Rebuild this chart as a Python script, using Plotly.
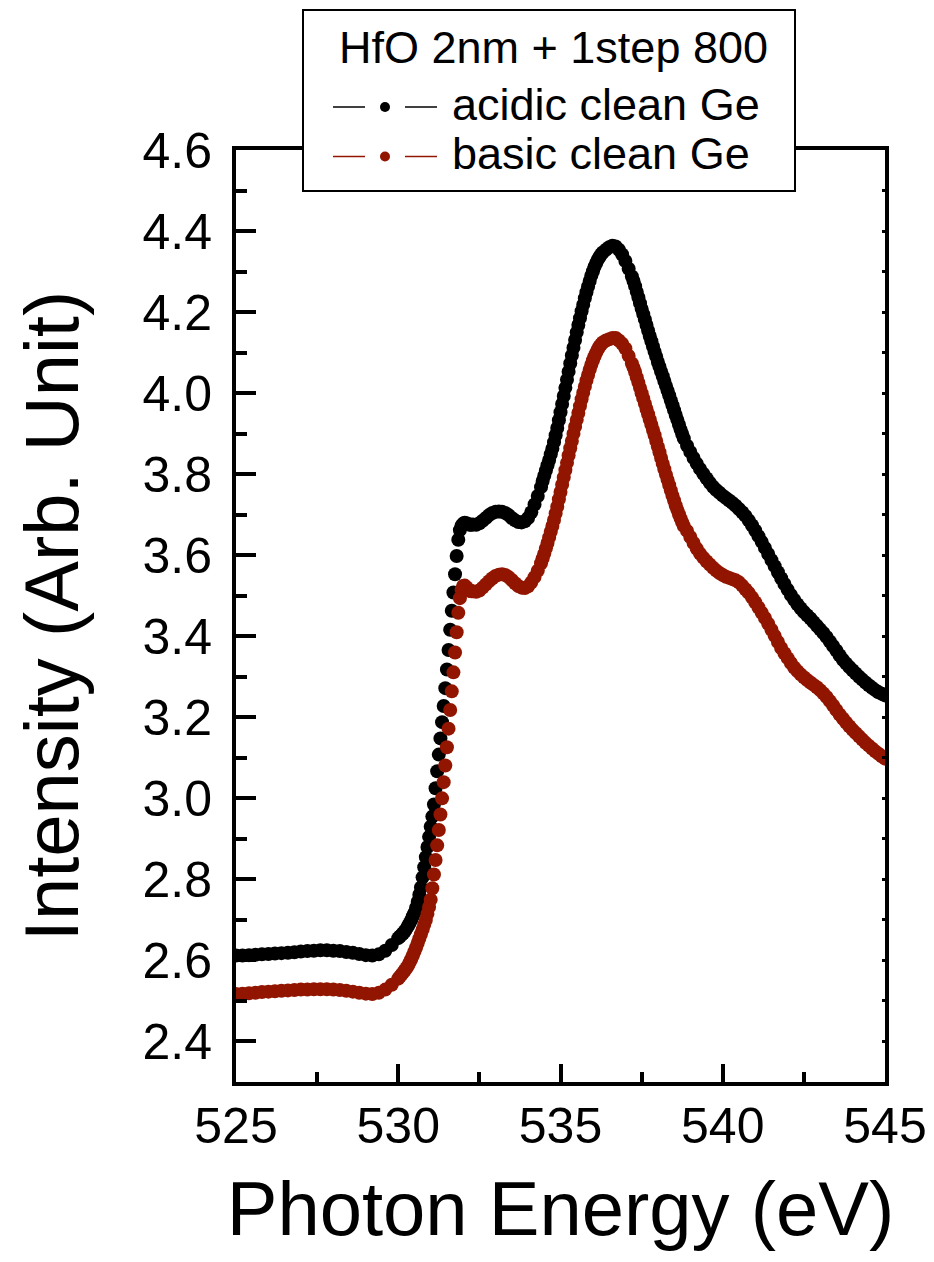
import plotly.graph_objects as go

# ---------------- data ----------------
energy = [
    # 525.0 - 529.8
    525.0, 525.2, 525.4, 525.6, 525.8, 526.0, 526.2, 526.4, 526.6, 526.8,
    527.0, 527.2, 527.4, 527.6, 527.8, 528.0, 528.2, 528.4, 528.6, 528.8,
    529.0, 529.2, 529.4, 529.6, 529.8,
    # 530.0 - 530.7
    530.0, 530.05, 530.1, 530.15, 530.2, 530.25, 530.3, 530.35, 530.4, 530.45,
    530.5, 530.55, 530.6, 530.65, 530.7,
    # 530.75 - 532.3
    530.75, 530.8, 530.85, 530.9, 530.95, 531.0, 531.05, 531.1, 531.15, 531.2,
    531.25, 531.3, 531.35, 531.4, 531.45, 531.5, 531.55, 531.6, 531.65, 531.7,
    531.75, 531.8, 531.85, 531.9, 531.95, 532.0, 532.05, 532.1, 532.15, 532.2,
    532.25, 532.3,
    # 532.4 - 534.4
    532.4, 532.5, 532.6, 532.7, 532.8, 532.9, 533.0, 533.1, 533.2, 533.3,
    533.4, 533.5, 533.6, 533.7, 533.8, 533.9, 534.0, 534.1, 534.2, 534.3, 534.4,
    # 534.45 - 536.3
    534.45, 534.5, 534.55, 534.6, 534.65, 534.7, 534.75, 534.8, 534.85, 534.9,
    534.95, 535.0, 535.05, 535.1, 535.15, 535.2, 535.25, 535.3, 535.35, 535.4,
    535.45, 535.5, 535.55, 535.6, 535.65, 535.7, 535.75, 535.8, 535.85, 535.9,
    535.95, 536.0, 536.05, 536.1, 536.15, 536.2, 536.25, 536.3,
    # 536.4 - 537.2
    536.4, 536.5, 536.6, 536.7, 536.8, 536.9, 537.0, 537.1, 537.2,
    # 537.25 - 538.8
    537.25, 537.3, 537.35, 537.4, 537.45, 537.5, 537.55, 537.6, 537.65, 537.7,
    537.75, 537.8, 537.85, 537.9, 537.95, 538.0, 538.05, 538.1, 538.15, 538.2,
    538.25, 538.3, 538.35, 538.4, 538.45, 538.5, 538.55, 538.6, 538.65, 538.7,
    538.75, 538.8,
    # 538.9 - 545.0
    538.9, 539.0, 539.1, 539.2, 539.3, 539.4, 539.5, 539.6, 539.7, 539.8,
    539.9, 540.0, 540.1, 540.2, 540.3, 540.4, 540.5, 540.6, 540.7, 540.8,
    540.9, 541.0, 541.1, 541.2, 541.3, 541.4, 541.5, 541.6, 541.7, 541.8,
    541.9, 542.0, 542.1, 542.2, 542.3, 542.4, 542.5, 542.6, 542.7, 542.8,
    542.9, 543.0, 543.1, 543.2, 543.3, 543.4, 543.5, 543.6, 543.7, 543.8,
    543.9, 544.0, 544.1, 544.2, 544.3, 544.4, 544.5, 544.6, 544.7, 544.8,
    544.9, 545.0,
]

acidic = [
    2.612, 2.612, 2.613, 2.614, 2.615, 2.616, 2.617, 2.618, 2.619, 2.620,
    2.622, 2.623, 2.624, 2.625, 2.625, 2.624, 2.623, 2.621, 2.619, 2.616,
    2.613, 2.612, 2.615, 2.624, 2.638,
    2.655, 2.659, 2.663, 2.667, 2.672, 2.678, 2.685, 2.692, 2.700, 2.709,
    2.718, 2.730, 2.745, 2.762, 2.780,
    2.805, 2.830, 2.855, 2.880, 2.905, 2.930, 2.955, 2.985, 3.025, 3.067,
    3.108, 3.148, 3.188, 3.228, 3.272, 3.318, 3.366, 3.416, 3.463, 3.508,
    3.553, 3.598, 3.638, 3.662, 3.673, 3.678, 3.680, 3.679, 3.677, 3.675,
    3.675, 3.676,
    3.675, 3.679, 3.685, 3.692, 3.699, 3.704, 3.707, 3.708, 3.707, 3.704,
    3.699, 3.692, 3.686, 3.682, 3.681, 3.684, 3.692, 3.706, 3.725, 3.746, 3.768,
    3.783, 3.796, 3.809, 3.822, 3.835, 3.849, 3.863, 3.879, 3.896, 3.914,
    3.933, 3.953, 3.973, 3.993, 4.013, 4.033, 4.053, 4.073, 4.093, 4.112,
    4.131, 4.150, 4.168, 4.185, 4.202, 4.218, 4.234, 4.249, 4.263, 4.277,
    4.290, 4.301, 4.312, 4.321, 4.329, 4.336, 4.342, 4.347,
    4.354, 4.360, 4.364, 4.362, 4.354, 4.342, 4.326, 4.307, 4.288,
    4.277, 4.264, 4.250, 4.236, 4.222, 4.208, 4.195, 4.182, 4.168, 4.154,
    4.141, 4.128, 4.115, 4.102, 4.090, 4.077, 4.065, 4.053, 4.042, 4.030,
    4.018, 4.006, 3.994, 3.982, 3.970, 3.958, 3.946, 3.934, 3.922, 3.910,
    3.899, 3.888,
    3.870, 3.855, 3.840, 3.826, 3.813, 3.801, 3.790, 3.779, 3.769, 3.761,
    3.754, 3.747, 3.741, 3.735, 3.729, 3.722, 3.714, 3.706, 3.697, 3.686,
    3.674, 3.661, 3.647, 3.633, 3.618, 3.603, 3.588, 3.573, 3.558, 3.543,
    3.529, 3.515, 3.502, 3.490, 3.479, 3.469, 3.460, 3.452, 3.444, 3.435,
    3.426, 3.417, 3.408, 3.398, 3.387, 3.376, 3.365, 3.353, 3.342, 3.333,
    3.324, 3.316, 3.308, 3.300, 3.293, 3.286, 3.279, 3.273, 3.267, 3.262,
    3.258, 3.254,
]

basic = [
    2.517, 2.518, 2.519, 2.520, 2.522, 2.523, 2.524, 2.525, 2.526, 2.527,
    2.528, 2.528, 2.529, 2.529, 2.529, 2.528, 2.527, 2.525, 2.523, 2.520,
    2.518, 2.517, 2.520, 2.528, 2.540,
    2.555, 2.560, 2.565, 2.570, 2.575, 2.581, 2.587, 2.595, 2.603, 2.612,
    2.622, 2.632, 2.643, 2.654, 2.665,
    2.676, 2.688, 2.700, 2.715, 2.732, 2.750, 2.778, 2.812, 2.848, 2.884,
    2.922, 2.960, 3.000, 3.040, 3.081, 3.126, 3.172, 3.218, 3.264, 3.311,
    3.360, 3.410, 3.458, 3.494, 3.515, 3.524, 3.525, 3.521, 3.516, 3.512,
    3.511, 3.511,
    3.510, 3.513, 3.520, 3.528, 3.536, 3.543, 3.549, 3.552, 3.553, 3.551,
    3.546, 3.539, 3.531, 3.524, 3.520, 3.519, 3.523, 3.533, 3.546, 3.562, 3.580,
    3.592, 3.604, 3.617, 3.630, 3.644, 3.658, 3.672, 3.687, 3.703, 3.720,
    3.738, 3.756, 3.774, 3.792, 3.810, 3.828, 3.846, 3.864, 3.882, 3.900,
    3.917, 3.934, 3.951, 3.968, 3.985, 4.001, 4.016, 4.031, 4.045, 4.058,
    4.070, 4.081, 4.091, 4.100, 4.108, 4.115, 4.120, 4.125,
    4.130, 4.133, 4.136, 4.136, 4.130, 4.122, 4.110, 4.092, 4.073,
    4.063, 4.052, 4.039, 4.026, 4.013, 4.000, 3.987, 3.974, 3.961, 3.948,
    3.935, 3.922, 3.909, 3.896, 3.882, 3.868, 3.854, 3.840, 3.826, 3.812,
    3.799, 3.786, 3.773, 3.760, 3.747, 3.735, 3.723, 3.712, 3.701, 3.691,
    3.681, 3.672,
    3.660, 3.645, 3.630, 3.616, 3.604, 3.594, 3.585, 3.577, 3.569, 3.562,
    3.556, 3.551, 3.547, 3.544, 3.541, 3.538, 3.533, 3.525, 3.516, 3.507,
    3.496, 3.484, 3.471, 3.458, 3.445, 3.431, 3.416, 3.401, 3.386, 3.371,
    3.358, 3.346, 3.334, 3.323, 3.314, 3.306, 3.299, 3.292, 3.286, 3.280,
    3.274, 3.267, 3.259, 3.250, 3.240, 3.229, 3.218, 3.207, 3.197, 3.187,
    3.178, 3.169, 3.161, 3.153, 3.145, 3.137, 3.130, 3.123, 3.116, 3.110,
    3.104, 3.098,
]

x_ticks = [525, 530, 535, 540, 545]
y_ticks = [2.4, 2.6, 2.8, 3.0, 3.2, 3.4, 3.6, 3.8, 4.0, 4.2, 4.4, 4.6]
legend_title = "HfO 2nm + 1step 800"
names = ["acidic clean Ge", "basic clean Ge"]
colors = ["#000000", "#921500"]

# ---------------- layout geometry ----------------
# page body has an 8 px default margin, so the figure is drawn 8 px smaller
OFF = 8
W, H = 934 - OFF, 1262 - OFF
# plot-area edges as seen on the page
Lp, Rp, Tp, Bp = 236, 885, 150, 1082
L, R, T, B = Lp - OFF, Rp - OFF, Tp - OFF, Bp - OFF
FONT = "Liberation Sans, Arial, sans-serif"


def px(xp):
    """page x pixel -> paper coordinate"""
    return (xp - OFF - L) / (R - L)


def py(yp):
    """page y pixel -> paper coordinate"""
    return (B - (yp - OFF)) / (B - T)


fig = go.Figure()
for yv, nm, col in [(acidic, names[0], colors[0]), (basic, names[1], colors[1])]:
    fig.add_trace(go.Scatter(
        x=energy, y=yv, mode="markers", name=nm, showlegend=False,
        marker=dict(size=14, color=col, line=dict(width=0)),
    ))

# invisible trace carrying the right-hand tiny ticks
fig.add_trace(go.Scatter(x=[None], y=[None], yaxis="y2", showlegend=False,
                         hoverinfo="skip"))

shapes = []
annotations = []

# legend box
shapes.append(dict(type="rect", xref="paper", yref="paper",
                   x0=px(303), x1=px(795), y0=py(191), y1=py(10),
                   line=dict(color="black", width=2), fillcolor="white",
                   layer="above"))
annotations.append(dict(text=legend_title, xref="paper", yref="paper",
                        x=px(553), y=py(47), xanchor="center", yanchor="middle",
                        showarrow=False, font=dict(family=FONT, size=45, color="black")))
for i, (nm, col) in enumerate(zip(names, colors)):
    yc = 107 + i * 49.5
    for (a, b) in [(333, 365), (405, 437)]:
        shapes.append(dict(type="line", xref="paper", yref="paper",
                           x0=px(a), x1=px(b), y0=py(yc), y1=py(yc),
                           line=dict(color=col, width=1.5), layer="above"))
    shapes.append(dict(type="circle", xref="paper", yref="paper",
                       x0=px(380), x1=px(390), y0=py(yc + 5), y1=py(yc - 5),
                       line=dict(color=col, width=0), fillcolor=col, layer="above"))
    annotations.append(dict(text=nm, xref="paper", yref="paper",
                            x=px(450), y=py(yc - 3), xanchor="left", yanchor="middle",
                            showarrow=False,
                            font=dict(family=FONT, size=45, color="black")))

fig.update_layout(
    width=W, height=H,
    margin=dict(l=L, r=W - R, t=T, b=H - B, pad=0),
    paper_bgcolor="white", plot_bgcolor="white",
    font=dict(family=FONT, color="black"),
    shapes=shapes, annotations=annotations,
    xaxis=dict(
        range=[525, 545], tickvals=x_ticks, ticktext=[str(v) for v in x_ticks],
        ticks="inside", ticklen=18, tickwidth=4, tickcolor="black",
        minor=dict(ticks="inside", ticklen=10, tickwidth=4, tickcolor="black",
                   tick0=525, dtick=2.5),
        showline=True, mirror=True, linewidth=4, linecolor="black",
        showgrid=False, zeroline=False,
        tickfont=dict(family=FONT, size=50, color="black"),
        ticklabelstandoff=-3,
        title=dict(text="Photon Energy (eV)", standoff=30,
                   font=dict(family=FONT, size=76, color="black")),
        automargin=False,
    ),
    yaxis=dict(
        range=[2.3, 4.6], tickvals=y_ticks, ticktext=[f"{v:.1f}" for v in y_ticks],
        ticks="inside", ticklen=20, tickwidth=4, tickcolor="black",
        minor=dict(ticks="inside", ticklen=11, tickwidth=4, tickcolor="black",
                   tick0=2.3, dtick=0.1),
        showline=True, mirror=True, linewidth=4, linecolor="black",
        showgrid=False, zeroline=False,
        tickfont=dict(family=FONT, size=50, color="black"),
        ticklabelstandoff=10,
        title=dict(text="Intensity (Arb. Unit)", standoff=40,
                   font=dict(family=FONT, size=76, color="black")),
        automargin=False,
    ),
    yaxis2=dict(
        overlaying="y", side="right", range=[2.3, 4.6],
        tick0=2.3, dtick=0.1, ticks="inside", ticklen=3, tickwidth=3,
        tickcolor="black", showticklabels=False, showline=False,
        showgrid=False, zeroline=False,
    ),
    showlegend=False,
)

fig.write_html("out.html")
